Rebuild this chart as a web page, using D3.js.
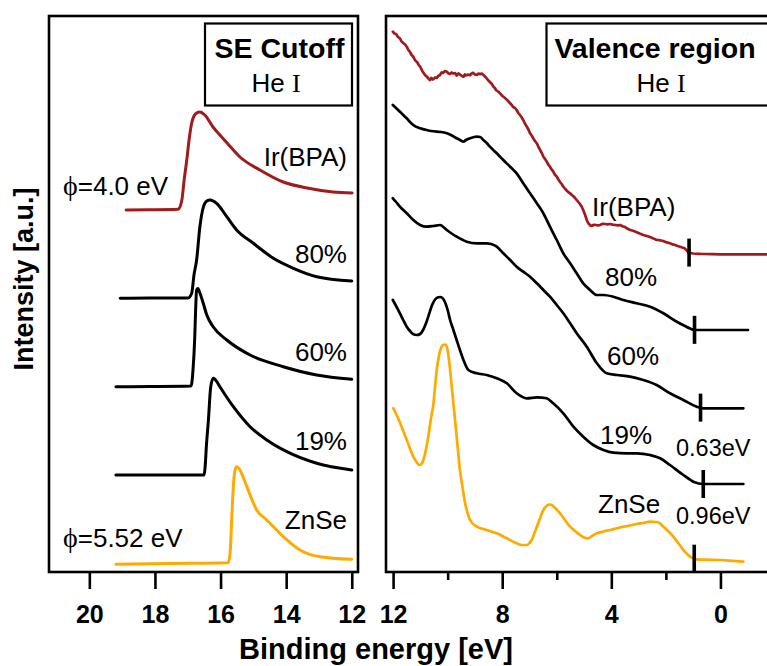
<!DOCTYPE html>
<html>
<head>
<meta charset="utf-8">
<script src="https://cdn.jsdelivr.net/npm/d3@7"></script>
<style>
  html, body { margin: 0; padding: 0; background: #fff; overflow: hidden; }
  svg { display: block; font-family: "Liberation Sans", Arial, sans-serif; }
</style>
</head>
<body>
<svg id="chart" width="767" height="666"></svg>
<script>
// ---------------- data ----------------
const seriesNames = ["Ir(BPA)", "80%", "60%", "19%", "ZnSe"];
const cutoffTicks = [20, 18, 16, 14, 12];
const valenceTicks = [12, 8, 4, 0];
const valenceMinorTicks = [10, 6, 2];
const workFunctions = ["4.0", "5.52"];          // eV, Ir(BPA) and ZnSe
const onsetLabels = ["0.63eV", "0.96eV"];
// valence band onsets (eV) for Ir(BPA), 80%, 60%, 19%, ZnSe
const vbmOnsets = [1.15, 0.95, 0.73, 0.63, 0.96];

// Secondary-electron cutoff spectra: [binding energy (eV), intensity (a.u.)], stacked
const seIr = [[18.88,3620],[18.15,3622],[17.29,3627],[17.18,3720],[17.11,3920],[17.03,4120],[16.96,4320],
  [16.88,4490],[16.81,4560],[16.73,4590],[16.63,4600],[16.48,4570],[16.23,4450],[16.02,4370],[15.80,4290],
  [15.41,4150],[14.80,4020],[14.09,3900],[13.36,3840],[12.57,3800],[11.99,3790]];
const se80 = [[19.06,2737],[18.15,2740],[16.99,2740],[16.88,2787],[16.81,2970],[16.73,3120],[16.63,3453],
  [16.52,3653],[16.42,3710],[16.32,3720],[16.12,3687],[15.81,3553],[15.51,3420],[15.00,3287],[14.39,3137],
  [13.78,3037],[13.07,2953],[12.00,2910]];
const se60 = [[19.19,1853],[18.15,1855],[16.90,1860],[16.84,2020],[16.79,2320],[16.76,2620],[16.73,2820],
  [16.69,2835],[16.63,2790],[16.53,2690],[16.42,2570],[16.22,2450],[15.81,2320],[15.10,2170],[14.09,2053],
  [13.07,1970],[12.00,1927]];
const se19 = [[19.19,970],[18.15,970],[16.50,970],[16.47,1053],[16.43,1270],[16.37,1520],[16.30,1853],
  [16.22,1937],[16.14,1915],[16.02,1853],[15.61,1653],[15.10,1453],[14.59,1320],[13.98,1203],[13.07,1087],
  [12.00,1020]];
const seZnSe = [[19.19,77],[17.54,85],[15.77,93],[15.71,187],[15.66,520],[15.61,853],[15.56,1020],
  [15.51,1053],[15.41,1020],[15.20,853],[14.90,620],[14.59,520],[14.09,353],[13.58,220],[12.97,153],
  [12.00,127]];

// Valence region spectra: [binding energy (eV), intensity (a.u.)], stacked
const vbIr = [[12.01,5403],[11.95,5385],[11.89,5380],[11.82,5350],[11.75,5337],[11.69,5305],[11.63,5290],
  [11.56,5275],[11.50,5253],[11.44,5220],[11.38,5200],[11.32,5170],[11.26,5153],[11.19,5115],[11.12,5100],
  [11.06,5070],[11.01,5053],[10.92,5005],[10.83,4970],[10.77,4955],[10.72,4940],[10.65,4920],[10.60,4940],
  [10.54,4925],[10.46,4945],[10.40,4940],[10.35,4960],[10.28,4970],[10.22,4995],[10.17,4990],[10.10,5010],
  [10.03,5003],[9.97,4985],[9.91,4980],[9.85,4995],[9.80,4985],[9.73,4990],[9.67,4965],[9.61,4985],
  [9.55,4975],[9.48,4960],[9.42,4953],[9.37,4975],[9.33,4965],[9.25,4975],[9.18,4968],[9.12,4985],
  [9.07,4992],[9.00,4975],[8.93,4970],[8.87,4985],[8.81,4978],[8.75,4985],[8.69,4970],[8.63,4955],
  [8.57,4937],[8.51,4915],[8.45,4900],[8.38,4880],[8.32,4853],[8.27,4840],[8.23,4820],[8.15,4805],
  [8.08,4787],[7.99,4760],[7.90,4740],[7.80,4715],[7.71,4687],[7.65,4670],[7.60,4650],[7.53,4640],
  [7.47,4620],[7.41,4590],[7.35,4570],[7.29,4548],[7.23,4520],[7.16,4480],[7.09,4450],[7.03,4420],
  [6.98,4387],[6.92,4365],[6.87,4340],[6.80,4310],[6.73,4287],[6.67,4250],[6.61,4220],[6.55,4190],
  [6.49,4153],[6.42,4125],[6.36,4100],[6.30,4070],[6.25,4053],[6.19,4025],[6.14,4010],[6.07,3975],
  [6.00,3953],[5.94,3925],[5.88,3900],[5.82,3880],[5.76,3853],[5.69,3830],[5.62,3810],[5.56,3795],
  [5.51,3787],[5.45,3770],[5.40,3760],[5.33,3740],[5.27,3720],[5.21,3700],[5.15,3680],[5.09,3655],
  [5.03,3620],[4.96,3570],[4.90,3520],[4.86,3495],[4.82,3480],[4.77,3465],[4.72,3460],[4.64,3472],
  [4.56,3470],[4.48,3465],[4.41,3470],[4.32,3482],[4.23,3480],[4.14,3476],[4.05,3480],[3.95,3474],
  [3.86,3470],[3.77,3466],[3.68,3470],[3.59,3458],[3.50,3450],[3.40,3432],[3.31,3420],[3.20,3412],
  [3.09,3400],[2.96,3384],[2.83,3370],[2.70,3360],[2.58,3350],[2.46,3336],[2.34,3320],[2.22,3318],
  [2.10,3310],[1.97,3296],[1.85,3287],[1.75,3276],[1.66,3270],[1.57,3260],[1.48,3253],[1.40,3245],
  [1.33,3240],[1.25,3220],[1.18,3197],[1.09,3188],[1.00,3185],[0.80,3182],[0.63,3180],[0.30,3178],
  [0.01,3177],[-0.60,3177],[-1.20,3176],[-1.70,3177],[-2.00,3177]];
const vb80 = [[12.01,4670],[11.89,4640],[11.75,4603],[11.63,4570],[11.50,4537],[11.38,4500],[11.26,4470],
  [11.01,4437],[10.77,4420],[10.61,4410],[10.40,4403],[10.24,4400],[10.03,4387],[9.88,4370],[9.67,4337],
  [9.55,4320],[9.42,4303],[9.33,4320],[9.18,4337],[8.93,4353],[8.81,4350],[8.69,4320],[8.57,4290],
  [8.45,4253],[8.20,4187],[7.96,4120],[7.71,4053],[7.47,3987],[7.23,3887],[6.98,3787],[6.73,3687],
  [6.49,3587],[6.25,3453],[6.00,3320],[5.76,3187],[5.51,3087],[5.27,2987],[5.03,2887],[4.78,2820],
  [4.53,2770],[4.29,2770],[3.93,2753],[3.56,2720],[3.07,2687],[2.58,2653],[2.09,2587],[1.60,2503],
  [1.30,2460],[1.11,2435],[0.93,2420],[0.38,2420],[-0.35,2420],[-1.01,2420]];
const vb60 = [[12.01,3737],[11.89,3700],[11.75,3653],[11.50,3587],[11.26,3520],[11.01,3470],[10.77,3453],
  [10.52,3460],[10.28,3470],[10.03,3420],[9.88,3390],[9.67,3353],[9.30,3303],[8.93,3287],[8.57,3287],
  [8.41,3280],[8.20,3253],[7.96,3187],[7.71,3120],[7.47,3053],[7.23,3003],[6.98,2953],[6.73,2887],
  [6.49,2820],[6.25,2753],[6.00,2670],[5.76,2587],[5.51,2487],[5.27,2387],[4.90,2253],[4.53,2087],
  [4.17,1987],[3.80,1970],[3.31,1953],[2.83,1920],[2.34,1870],[1.85,1787],[1.36,1720],[0.87,1653],
  [0.63,1637],[0.01,1637],[-0.84,1637]];
const vb19 = [[12.01,2720],[11.89,2660],[11.75,2587],[11.63,2520],[11.50,2453],[11.38,2410],[11.27,2380],
  [11.13,2370],[11.01,2380],[10.90,2420],[10.79,2490],[10.68,2580],[10.57,2670],[10.46,2725],[10.37,2745],
  [10.28,2750],[10.19,2740],[10.10,2700],[10.00,2620],[9.91,2520],[9.79,2420],[9.67,2320],[9.55,2220],
  [9.42,2120],[9.24,2020],[8.93,1987],[8.57,1970],[8.20,1937],[7.83,1887],[7.47,1787],[7.10,1737],
  [6.73,1747],[6.37,1737],[6.13,1687],[5.76,1587],[5.39,1453],[5.03,1353],[4.66,1270],[4.29,1220],
  [3.93,1193],[3.43,1187],[3.07,1187],[2.58,1170],[2.21,1137],[1.85,1070],[1.36,970],[0.99,903],
  [0.63,880],[0.01,880],[-0.84,880]];
const vbZnSe = [[11.99,1637],[11.87,1570],[11.74,1487],[11.62,1405],[11.50,1320],[11.38,1235],[11.26,1153],
  [11.14,1100],[11.04,1070],[10.96,1080],[10.89,1120],[10.80,1220],[10.71,1353],[10.62,1520],[10.52,1687],
  [10.46,1860],[10.40,2020],[10.32,2160],[10.22,2253],[10.13,2275],[10.06,2270],[9.99,2200],[9.91,2020],
  [9.82,1770],[9.73,1520],[9.64,1270],[9.55,1020],[9.45,840],[9.36,687],[9.27,590],[9.18,520],[8.93,453],
  [8.57,420],[8.20,387],[7.83,337],[7.47,287],[7.28,270],[7.10,270],[7.00,290],[6.92,320],[6.83,380],
  [6.73,453],[6.61,540],[6.49,620],[6.36,665],[6.26,675],[6.18,670],[6.06,640],[5.88,587],[5.70,520],
  [5.51,453],[5.33,410],[5.15,370],[5.00,345],[4.84,337],[4.71,360],[4.53,387],[4.30,405],[4.04,420],
  [3.83,435],[3.56,453],[3.31,465],[3.07,480],[2.84,490],[2.58,503],[2.34,500],[2.21,485],[2.09,453],
  [1.92,410],[1.73,353],[1.55,290],[1.36,220],[1.22,180],[1.11,153],[0.99,135],[0.87,127],[0.56,123],
  [0.01,120],[-0.43,112],[-0.84,103]];

const cutoffSeries = [seIr, se80, se60, se19, seZnSe];
const valenceSeries = [vbIr, vb80, vb60, vb19, vbZnSe];

// ---------------- layout & styles ----------------
const seriesColors = ["#a01b1d", "#000000", "#000000", "#000000", "#ffaa00"];
const sans = '"Liberation Sans", Arial, sans-serif';
const serif = '"Liberation Serif", "Times New Roman", serif';
const plotTop = 16, plotBottom = 572;
const leftPanel = { x0: 49, x1: 358 };
const rightPanel = { x0: 386, x1: 775 };

const svg = d3.select("#chart");

const y = d3.scaleLinear().domain([0, 5560]).range([plotBottom, plotTop]);
const xSE = d3.scaleLinear().domain([21.23, 11.81]).range([leftPanel.x0, leftPanel.x1]);
const xVB = d3.scaleLinear().domain([12.26, -2.0]).range([rightPanel.x0, rightPanel.x1]);

const defs = svg.append("defs");
[["clipSE", leftPanel], ["clipVB", rightPanel]].forEach(([id, p]) => {
  defs.append("clipPath").attr("id", id).append("rect")
    .attr("x", p.x0).attr("y", plotTop).attr("width", p.x1 - p.x0).attr("height", plotBottom - plotTop);
});

// ---------------- spectra ----------------
function drawSpectra(x, list, clipId, width, curveFor) {
  const g = svg.append("g").attr("clip-path", `url(#${clipId})`);
  list.forEach((data, i) => {
    const line = d3.line().x(d => x(d[0])).y(d => y(d[1])).curve(curveFor(i));
    g.append("path").datum(data)
      .attr("d", line)
      .attr("fill", "none")
      .attr("stroke", seriesColors[i])
      .attr("stroke-width", width)
      .attr("stroke-linejoin", "round")
      .attr("stroke-linecap", "round");
  });
}
drawSpectra(xSE, cutoffSeries, "clipSE", 3, () => d3.curveMonotoneX);
drawSpectra(xVB, valenceSeries, "clipVB", 2.7, i => (i === 0 ? d3.curveLinear : d3.curveMonotoneX));

// valence band onset markers
function valueAt(data, e) {
  for (let i = 0; i < data.length - 1; i++) {
    const [e0, v0] = data[i], [e1, v1] = data[i + 1];
    if ((e0 - e) * (e1 - e) <= 0) {
      const t = e1 === e0 ? 0 : (e - e0) / (e1 - e0);
      return v0 + t * (v1 - v0);
    }
  }
  return data[data.length - 1][1];
}
svg.append("g").selectAll("line")
  .data(vbmOnsets)
  .join("line")
  .attr("x1", d => xVB(d)).attr("x2", d => xVB(d))
  .attr("y1", (d, i) => y(valueAt(valenceSeries[i], d)) - 14)
  .attr("y2", (d, i) => y(valueAt(valenceSeries[i], d)) + 14)
  .attr("stroke", "#000").attr("stroke-width", 3.6);

// ---------------- frames ----------------
svg.append("rect").attr("x", leftPanel.x0).attr("y", plotTop)
  .attr("width", leftPanel.x1 - leftPanel.x0).attr("height", plotBottom - plotTop)
  .attr("fill", "none").attr("stroke", "#000").attr("stroke-width", 2.6);
svg.append("rect").attr("x", rightPanel.x0).attr("y", plotTop)
  .attr("width", rightPanel.x1 - rightPanel.x0).attr("height", plotBottom - plotTop)
  .attr("fill", "none").attr("stroke", "#000").attr("stroke-width", 2.6);

// ---------------- axes ----------------
function styleAxis(g) {
  g.attr("font-size", null).attr("font-family", null);
  g.select(".domain").remove();
  g.selectAll(".tick line").attr("stroke", "#000").attr("stroke-width", 2.6);
  g.selectAll(".tick text")
    .attr("fill", "#000")
    .attr("font-family", sans)
    .attr("font-size", 25)
    .attr("font-weight", "bold");
}
svg.append("g").attr("transform", `translate(0,${plotBottom})`)
  .call(d3.axisBottom(xSE).tickValues(cutoffTicks).tickSize(17).tickPadding(16).tickFormat(d3.format("d")))
  .call(styleAxis);
svg.append("g").attr("transform", `translate(0,${plotBottom})`)
  .call(d3.axisBottom(xVB).tickValues(valenceTicks).tickSize(17).tickPadding(16).tickFormat(d3.format("d")))
  .call(styleAxis);
svg.append("g").attr("transform", `translate(0,${plotBottom})`)
  .call(d3.axisBottom(xVB).tickValues(valenceMinorTicks).tickSize(8).tickFormat(""))
  .call(styleAxis);

// axis titles
svg.append("text")
  .attr("x", 376).attr("y", 659)
  .attr("text-anchor", "middle")
  .attr("font-family", sans).attr("font-size", 29).attr("font-weight", "bold")
  .text("Binding energy [eV]");
svg.append("text")
  .attr("transform", "translate(33,279) rotate(-90)")
  .attr("text-anchor", "middle")
  .attr("font-family", sans).attr("font-size", 27).attr("font-weight", "bold")
  .text("Intensity [a.u.]");

// ---------------- legend boxes ----------------
function titleBox(x, w, cx, title, subCx) {
  svg.append("rect").attr("x", x).attr("y", 23.5).attr("width", w).attr("height", 82)
    .attr("fill", "#fff").attr("stroke", "#000").attr("stroke-width", 2.2);
  svg.append("text").attr("x", cx).attr("y", 57.5).attr("text-anchor", "middle")
    .attr("font-family", sans).attr("font-size", 28.5).attr("font-weight", "bold").text(title);
  const t = svg.append("text").attr("x", subCx).attr("y", 92).attr("text-anchor", "middle")
    .attr("font-family", sans).attr("font-size", 26);
  t.append("tspan").text("He ");
  t.append("tspan").attr("font-family", serif).text("I");
}
titleBox(205, 147, 279.5, "SE Cutoff", 276);
titleBox(546.5, 230, 655, "Valence region", 661);

// ---------------- curve labels ----------------
function label(x, yy, txt, anchor, size) {
  return svg.append("text").attr("x", x).attr("y", yy)
    .attr("text-anchor", anchor || "start")
    .attr("font-family", sans).attr("font-size", size || 24).attr("fill", "#000")
    .text(txt);
}
const leftLabelY = [166, 263, 361, 450, 529];
seriesNames.forEach((n, i) => label(347, leftLabelY[i], n, "end", 26));

[[63, 195, workFunctions[0]], [63, 546.5, workFunctions[1]]].forEach(([x, yy, v]) => {
  const t = svg.append("text").attr("x", x).attr("y", yy)
    .attr("font-family", sans).attr("font-size", 26).attr("fill", "#000");
  t.append("tspan").attr("font-family", serif).attr("font-size", 28).text("\u03D5");
  t.append("tspan").text(`=${v} eV`);
});

const rightLabelPos = [[592, 216], [605, 286], [607, 365], [600, 444], [598, 513]];
seriesNames.forEach((n, i) => label(rightLabelPos[i][0], rightLabelPos[i][1], n, "start", 26));
label(676, 456, onsetLabels[0], "start", 23.5);
label(676, 524, onsetLabels[1], "start", 23.5);
</script>
</body>
</html>
